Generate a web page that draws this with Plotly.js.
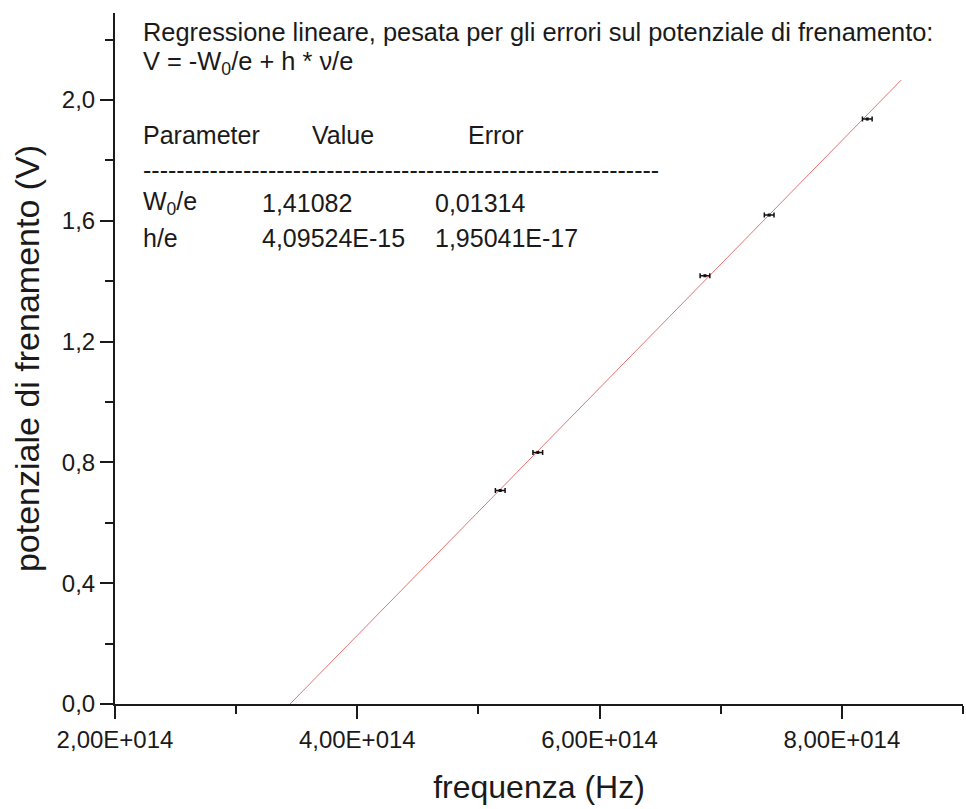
<!DOCTYPE html>
<html>
<head>
<meta charset="utf-8">
<script src="https://cdn.plot.ly/plotly-3.0.1.min.js"></script>
<style>html,body{margin:0;padding:0;background:#fff;}#chart{width:966px;height:809px;}</style>
</head>
<body>
<div id="chart"></div>
<script>
// Data
const freqHz = [5.18e14, 5.49e14, 6.87e14, 7.40e14, 8.21e14];
const stopV = [0.707, 0.833, 1.418, 1.619, 1.937];
const freqErr = [4e12, 4e12, 4e12, 4e12, 4e12];
const stopErr = [0.004, 0.004, 0.004, 0.004, 0.004];

// Fit parameters (from the printed table)
const fitW0e = 1.41082;
const fitHe = 4.09524e-15;
const fitX = [3.445e14, 8.49e14];
const fitY = fitX.map(v => -fitW0e + fitHe * v);

// Tick labels
const xTickVals = [2e14, 4e14, 6e14, 8e14];
const xTickText = ['2,00E+014', '4,00E+014', '6,00E+014', '8,00E+014'];

// Annotation text
const infoTitle = 'Regressione lineare, pesata per gli errori sul potenziale di frenamento:';
const infoEq = 'V = -W<sub>0</sub>/e + h * ν/e';
const tableHead = ['Parameter', 'Value', 'Error'];
const tableRows = [
  ['W<sub>0</sub>/e', '1,41082', '0,01314'],
  ['h/e', '4,09524E-15', '1,95041E-17']
];

const L = 115, R = 3, T = 13, B = 105, W = 966, H = 809;
const pw = W - L - R, ph = H - T - B;
const px = x => (x - L) / pw;
const py = y => (H - B - y) / ph;
const FONT = 'Liberation Sans, Arial, sans-serif';
const ink = '#1a1a1a';

const traces = [
  {
    x: fitX, y: fitY, mode: 'lines', type: 'scatter',
    line: {color: 'rgb(232,115,115)', width: 1},
    hoverinfo: 'skip', showlegend: false
  },
  {
    x: freqHz, y: stopV, mode: 'markers', type: 'scatter',
    marker: {color: '#111', size: 3, symbol: 'square'},
    error_x: {type: 'data', array: freqErr, visible: true, color: '#111', thickness: 1.5, width: 2.5},
    error_y: {type: 'data', array: stopErr, visible: true, color: '#111', thickness: 1, width: 0},
    showlegend: false
  }
];

const ann = [];
function txt(text, x, y, size) {
  ann.push({text: text, xref: 'paper', yref: 'paper', x: px(x), y: py(y),
    xanchor: 'left', yanchor: 'middle', showarrow: false,
    font: {family: FONT, size: size || 25, color: ink}});
}
txt(infoTitle, 141, 32, 25.4);
txt(infoEq, 141, 63, 25.4);
const colX = [141, 310, 466];
tableHead.forEach((t, i) => txt(t, colX[i], 135));
txt('-'.repeat(62), 141, 170);
const rowX = [141, 260, 433];
const rowY = [203, 238];
tableRows.forEach((r, j) => r.forEach((t, i) => txt(t, rowX[i], rowY[j])));

const layout = {
  width: W, height: H,
  margin: {l: L, r: R, t: T, b: B, pad: 0},
  paper_bgcolor: '#fff', plot_bgcolor: '#fff',
  separators: ',.',
  showlegend: false,
  font: {family: FONT, color: ink},
  xaxis: {
    range: [2e14, 9e14],
    tickmode: 'array', tickvals: xTickVals, ticktext: xTickText,
    ticks: 'outside', ticklen: 13, tickwidth: 2, tickcolor: ink,
    minor: {dtick: 1e14, tick0: 2e14, ticks: 'outside', ticklen: 8, tickwidth: 2, tickcolor: ink},
    showline: true, linecolor: ink, linewidth: 2,
    showgrid: false, zeroline: false,
    tickfont: {family: FONT, size: 24, color: ink},
    title: {text: 'frequenza (Hz)', font: {family: FONT, size: 32, color: ink}, standoff: 24},
    automargin: false
  },
  yaxis: {
    range: [0, 2.288],
    tick0: 0, dtick: 0.4, tickformat: '.1f',
    ticks: 'outside', ticklen: 13, tickwidth: 2, tickcolor: ink,
    minor: {dtick: 0.2, tick0: 0, ticks: 'outside', ticklen: 8, tickwidth: 2, tickcolor: ink},
    showline: true, linecolor: ink, linewidth: 2,
    showgrid: false, zeroline: false,
    tickfont: {family: FONT, size: 24, color: ink},
    title: {text: 'potenziale di frenamento (V)', font: {family: FONT, size: 34, color: ink}, standoff: 12},
    automargin: false
  },
  annotations: ann
};

Plotly.newPlot('chart', traces, layout, {displayModeBar: false, staticPlot: true});
</script>
</body>
</html>
